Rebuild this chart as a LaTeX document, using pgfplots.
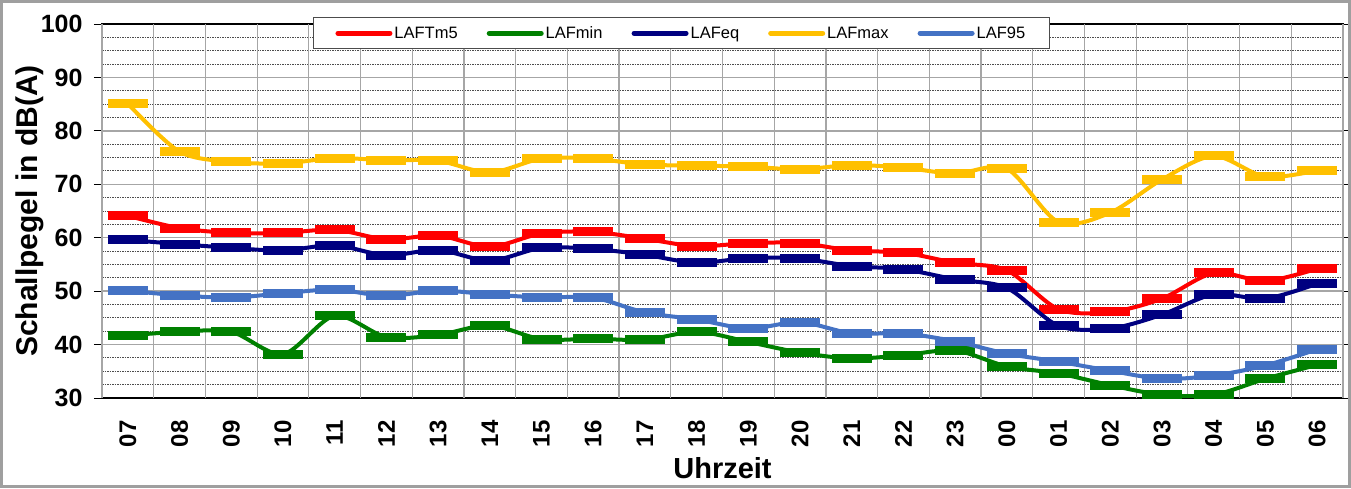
\documentclass[border=0pt]{standalone}
\usepackage{fontspec}
\setmainfont{Liberation Sans}
\usepackage{pgfplots}
\pgfplotsset{compat=1.18}
\definecolor{cRed}{RGB}{255,0,0}
\definecolor{cGreen}{RGB}{0,128,0}
\definecolor{cNavy}{RGB}{0,0,128}
\definecolor{cYellow}{RGB}{255,192,0}
\definecolor{cBlue}{RGB}{68,114,196}
\begin{document}
\begin{tikzpicture}
\useasboundingbox (0,0) rectangle (1351pt,488pt);
\fill[white] (0,0) rectangle (1351pt,488pt);
\begin{axis}[
  at={(102pt,90pt)}, anchor=south west,
  scale only axis, width=1241pt, height=374pt,
  xmin=-0.5, xmax=23.5, ymin=30, ymax=100,
  xtick={0,...,23},
  xticklabels={07,08,09,10,11,12,13,14,15,16,17,18,19,20,21,22,23,00,01,02,03,04,05,06},
  major x tick style={draw=none},
  xticklabel style={rotate=90, anchor=east, font=\fontsize{24}{24}\selectfont\bfseries},
  xticklabel shift={11pt},
  extra x ticks={-0.5,0.5,...,23.5},
  extra x tick labels={},
  extra x tick style={grid=major, major grid style={gray!70, line width=1.2pt, solid},
     tick align=outside, major tick length=9pt, tick style={black, line width=1pt}},
  ytick={30,40,...,100},
  minor y tick num=3,
  ymajorgrids, yminorgrids,
  major grid style={gray!70, line width=1.3pt},
  minor grid style={black!70, line width=0.9pt, dash pattern=on 1.5pt off 1pt},
  minor tick length=0pt,
  tick align=outside, major tick length=8pt,
  tick style={black, line width=1pt},
  yticklabel style={font=\fontsize{25}{25}\selectfont\bfseries, /pgf/number format/assume math mode=true},
  yticklabel shift={8pt},
  axis line style={black, line width=2.5pt},
  xlabel={Uhrzeit},
  xlabel style={at={(0.5,-0.2139)}, anchor=base, font=\fontsize{29}{29}\selectfont\bfseries},
  ylabel={Schallpegel in dB(A)},
  ylabel style={at={(-0.0580,0.5)}, anchor=center, font=\fontsize{30}{30}\selectfont\bfseries},
  clip marker paths=true,
  legend columns=5,
  legend image code/.code={\draw[#1, line width=5pt, line cap=round] (0pt,0pt) -- (52pt,0pt);},
  legend style={at={(0.170,1.0187)}, anchor=north west, draw=black!70, line width=1pt, fill=white,
     font=\fontsize{16.5}{18}\selectfont, inner xsep=22pt, inner ysep=9pt,
     /tikz/every even column/.append style={column sep=27pt},
     nodes={inner xsep=2pt, inner ysep=0pt}},
  every axis plot/.append style={line width=4pt, smooth, mark=-, mark size=20pt, mark options={line width=9pt, solid}},
]
\addplot[cRed] coordinates {(0,64.1)(1,61.8)(2,60.9)(3,60.9)(4,61.5)(5,59.7)(6,60.4)(7,58.3)(8,60.8)(9,61.1)(10,59.8)(11,58.4)(12,59.0)(13,59.0)(14,57.6)(15,57.2)(16,55.3)(17,53.9)(18,46.6)(19,46.1)(20,48.6)(21,53.4)(22,51.9)(23,54.2)};
\addlegendentry{LAFTm5}
\addplot[cGreen] coordinates {(0,41.7)(1,42.4)(2,42.4)(3,38.2)(4,45.4)(5,41.4)(6,41.8)(7,43.6)(8,41.0)(9,41.1)(10,40.9)(11,42.4)(12,40.5)(13,38.5)(14,37.4)(15,38.0)(16,38.9)(17,35.9)(18,34.6)(19,32.4)(20,30.6)(21,30.6)(22,33.6)(23,36.2)};
\addlegendentry{LAFmin}
\addplot[cNavy] coordinates {(0,59.6)(1,58.8)(2,58.1)(3,57.6)(4,58.6)(5,56.7)(6,57.7)(7,55.7)(8,58.1)(9,57.9)(10,56.8)(11,55.3)(12,56.2)(13,56.1)(14,54.7)(15,54.1)(16,52.2)(17,50.6)(18,43.5)(19,43.0)(20,45.6)(21,49.4)(22,48.6)(23,51.4)};
\addlegendentry{LAFeq}
\addplot[cYellow] coordinates {(0,85.1)(1,76.1)(2,74.2)(3,73.9)(4,74.9)(5,74.5)(6,74.4)(7,72.2)(8,74.8)(9,74.8)(10,73.7)(11,73.5)(12,73.3)(13,72.8)(14,73.6)(15,73.1)(16,72.0)(17,72.9)(18,62.9)(19,64.7)(20,70.9)(21,75.3)(22,71.4)(23,72.6)};
\addlegendentry{LAFmax}
\addplot[cBlue] coordinates {(0,50.1)(1,49.2)(2,48.8)(3,49.6)(4,50.3)(5,49.1)(6,50.1)(7,49.4)(8,48.8)(9,48.8)(10,46.0)(11,44.7)(12,43.0)(13,44.2)(14,42.1)(15,42.1)(16,40.6)(17,38.3)(18,36.8)(19,35.1)(20,33.6)(21,34.2)(22,36.1)(23,39.1)};
\addlegendentry{LAF95}
\end{axis}
\draw[gray!75, line width=3pt] (1.5pt,1.5pt) rectangle (1349.5pt,486.5pt);
\end{tikzpicture}
\end{document}
